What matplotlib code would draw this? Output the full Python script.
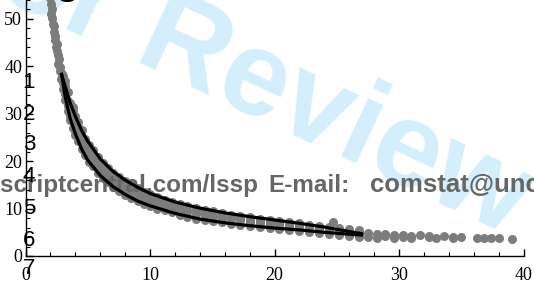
import matplotlib
matplotlib.use("Agg")
from matplotlib import pyplot as plt
from matplotlib.ticker import MultipleLocator

obs_x = [2.0, 2.05, 2.1, 2.05, 2.15, 2.2, 2.3, 2.25, 2.35, 2.4, 2.5, 2.45, 2.55, 2.6, 2.7, 2.65, 2.75, 2.8, 2.9, 2.85,
         3.0, 3.0, 3.0, 3.2, 3.2, 3.2, 3.2, 3.4, 3.4, 3.4, 3.4, 3.6, 3.6, 3.6, 3.6, 3.8, 3.8, 3.8, 3.8,
         4.0, 4.0, 4.0, 4.0, 4.2, 4.2, 4.2, 4.2, 4.5, 4.5, 4.5, 4.5, 4.8, 4.8, 4.8, 4.8, 5.1, 5.1, 5.1, 5.1,
         5.4, 5.4, 5.4, 5.4, 5.8, 5.8, 5.8, 5.8, 6.2, 6.2, 6.2, 6.2, 6.6, 6.6, 6.6, 6.6, 7.0, 7.0, 7.0, 7.0,
         7.5, 7.5, 7.5, 7.5, 8.0, 8.0, 8.0, 8.0, 8.5, 8.5, 8.5, 8.5, 9.0, 9.0, 9.0, 9.0, 9.5, 9.5, 9.5, 9.5,
         10.0, 10.0, 10.0, 10.0, 10.6, 10.6, 10.6, 10.6, 11.2, 11.2, 11.2, 11.2, 11.8, 11.8, 11.8, 11.8,
         12.4, 12.4, 12.4, 12.4, 13.0, 13.0, 13.0, 13.0, 13.7, 13.7, 13.7, 13.7, 14.4, 14.4, 14.4, 14.4,
         15.1, 15.1, 15.1, 15.1, 15.8, 15.8, 15.8, 15.8, 16.5, 16.5, 16.5, 16.5, 17.2, 17.2, 17.2, 17.2,
         18.0, 18.0, 18.0, 18.0, 18.8, 18.8, 18.8, 18.8, 19.6, 19.6, 19.6, 19.6, 20.4, 20.4, 20.4, 20.4,
         21.2, 21.2, 21.2, 21.2, 22.0, 22.0, 22.0, 22.0, 22.8, 22.8, 22.8, 22.8, 23.6, 23.6, 23.6, 23.6,
         24.4, 24.4, 24.4, 24.7, 25.2, 25.2, 25.2, 26.0, 26.0, 26.0, 26.8, 26.8, 26.8,
         27.5, 27.5, 28.2, 28.2, 28.9, 28.9, 29.6, 29.6, 30.3, 30.3, 31.0, 31.0, 31.7, 32.4, 32.4,
         33.0, 33.6, 34.3, 34.3, 35.0, 36.3, 36.8, 37.4, 38.0, 39.1]
obs_y = [54.5, 53.2, 52.0, 51.0, 50.2, 49.0, 48.5, 47.2, 46.5, 45.6, 44.8, 44.0, 43.2, 42.3, 41.5, 40.6, 39.8, 39.0, 38.4, 37.4,
         36.5, 38.0, 35.2, 33.0, 35.8, 34.2, 37.0, 30.5, 32.8, 34.5, 31.6, 28.6, 30.4, 32.3, 29.5, 27.0, 28.8, 30.8, 31.5,
         25.5, 27.4, 29.6, 26.3, 24.3, 26.0, 28.3, 27.2, 22.5, 24.2, 26.5, 25.0, 21.2, 22.9, 24.7, 23.5, 19.8, 21.3, 23.4, 22.0,
         18.9, 20.2, 22.3, 21.5, 17.6, 19.0, 20.9, 19.8, 16.5, 17.8, 19.6, 18.4, 15.6, 16.9, 18.5, 17.6, 14.6, 15.9, 17.6, 16.5,
         13.8, 15.0, 16.6, 15.6, 12.8, 14.2, 15.8, 14.8, 12.2, 13.5, 14.9, 13.9, 11.6, 12.8, 14.3, 13.2, 11.0, 12.3, 13.6, 12.7,
         10.5, 11.7, 13.1, 12.1, 10.0, 11.1, 12.5, 11.6, 9.6, 10.6, 11.9, 11.0, 9.2, 10.1, 11.4, 10.6,
         8.7, 9.7, 11.0, 10.2, 8.3, 9.3, 10.6, 9.8, 7.9, 8.9, 10.2, 9.4, 7.6, 8.6, 9.7, 9.1,
         7.4, 8.3, 9.4, 8.7, 7.1, 8.0, 9.1, 8.5, 6.8, 7.7, 8.7, 8.1, 6.6, 7.5, 8.4, 7.9,
         6.3, 7.2, 8.2, 7.6, 6.1, 7.0, 7.9, 7.3, 5.9, 6.7, 7.6, 7.1, 5.7, 6.5, 7.4, 6.9,
         5.5, 6.3, 7.1, 6.6, 5.3, 6.0, 6.9, 6.4, 5.1, 5.8, 6.6, 6.2, 4.9, 5.6, 6.4, 6.0,
         4.7, 5.4, 6.2, 7.2, 4.5, 5.2, 5.9, 4.3, 5.0, 5.6, 4.1, 4.8, 5.4,
         4.0, 4.9, 4.6, 3.9, 4.3, 4.7, 3.9, 4.4, 4.5, 4.1, 4.2, 3.8, 4.4, 4.0, 4.3,
         3.9, 4.2, 3.8, 4.1, 4.0, 3.7, 3.9, 3.7, 3.9, 3.6]

# fitted bounds
upper_x = [2.9, 3.2, 3.6, 4.0, 4.5, 5, 6, 7, 8, 9, 10, 12, 14, 16, 18, 20, 22, 24, 27]
upper_y = [38.3, 35.6, 32.2, 29.5, 26.5, 24.2, 20.5, 17.9, 16.0, 14.5, 13.2, 11.4, 10.1, 9.1, 8.3, 7.6, 6.9, 6.1, 4.7]
lower_x = [2.9, 3.2, 3.6, 4.0, 4.5, 5, 6, 7, 8, 9, 10, 12, 14, 16, 18, 20, 22, 24, 27]
lower_y = [38.3, 33.4, 28.9, 25.8, 22.6, 20.2, 17.0, 14.7, 13.0, 11.6, 10.6, 9.0, 7.8, 7.0, 6.4, 5.9, 5.5, 5.0, 4.4]

line_numbers = ["1", "2", "3", "4", "5", "6", "7"]

W, H = 534, 283
fig = plt.figure(figsize=(W / 100, H / 100), dpi=100)
ax = fig.add_axes([25.5 / W, 27 / H, 498 / W, 256 / H])
ax.patch.set_alpha(0)

# watermark
fig.text(230 / W, 1 - 71 / H, "For Review", family="Liberation Sans", weight="bold",
         fontsize=87, color="#d4effb", rotation=-25, rotation_mode="anchor",
         ha="center", va="center", zorder=-5)

ax.scatter(obs_x, obs_y, s=42, color="#7c7c7c", linewidths=0, zorder=1, clip_on=False)

# header/footer text of the page that runs across the figure
txt = dict(transform=fig.transFigure, family="Liberation Sans", weight="bold", fontsize=17.5,
           color="#666666", va="baseline", zorder=1.5, clip_on=False)
ax.text(258 / W, 1 - 192 / H, "http://mc.manuscriptcentral.com/lssp", ha="right", **txt)
ax.text(268 / W, 1 - 192 / H, "E-mail:", ha="left", **txt)
ax.text(370 / W, 1 - 192 / H, "comstat@uncc.edu", ha="left", **dict(txt, fontsize=18.5))

ax.plot(upper_x, upper_y, color="black", lw=2.3, zorder=2)
ax.plot(lower_x, lower_y, color="black", lw=2.3, zorder=2)

ax.set_xlim(0, 40)
ax.set_ylim(0, 54)
ax.spines["top"].set_visible(False)
ax.spines["right"].set_visible(False)
for s in ["left", "bottom"]:
    ax.spines[s].set_linewidth(1.0)
ax.xaxis.set_major_locator(MultipleLocator(10))
ax.xaxis.set_minor_locator(MultipleLocator(2))
ax.yaxis.set_major_locator(MultipleLocator(10))
ax.yaxis.set_minor_locator(MultipleLocator(2))
ax.tick_params(axis="x", which="both", direction="in", pad=8)
ax.tick_params(axis="y", which="both", direction="in", pad=2.5)
ax.tick_params(which="major", length=5, width=1)
ax.tick_params(which="minor", length=3, width=0.8)
for lab in ax.get_xticklabels() + ax.get_yticklabels():
    lab.set_family("Liberation Serif")
    lab.set_fontsize(13)

# line numbers down the margin
for i, num in enumerate(line_numbers):
    ypix = [83, 115, 145, 176, 209, 240, 269][i]
    fig.text(35 / W, 1 - ypix / H, num, family="Liberation Sans", fontsize=16,
             ha="right", va="center", zorder=5)
fig.text(66 / W, 1 - 2 / H, "S", family="Liberation Sans", weight="bold", fontsize=20,
         ha="center", va="baseline", zorder=5)

fig.savefig("out.png", dpi=100)
